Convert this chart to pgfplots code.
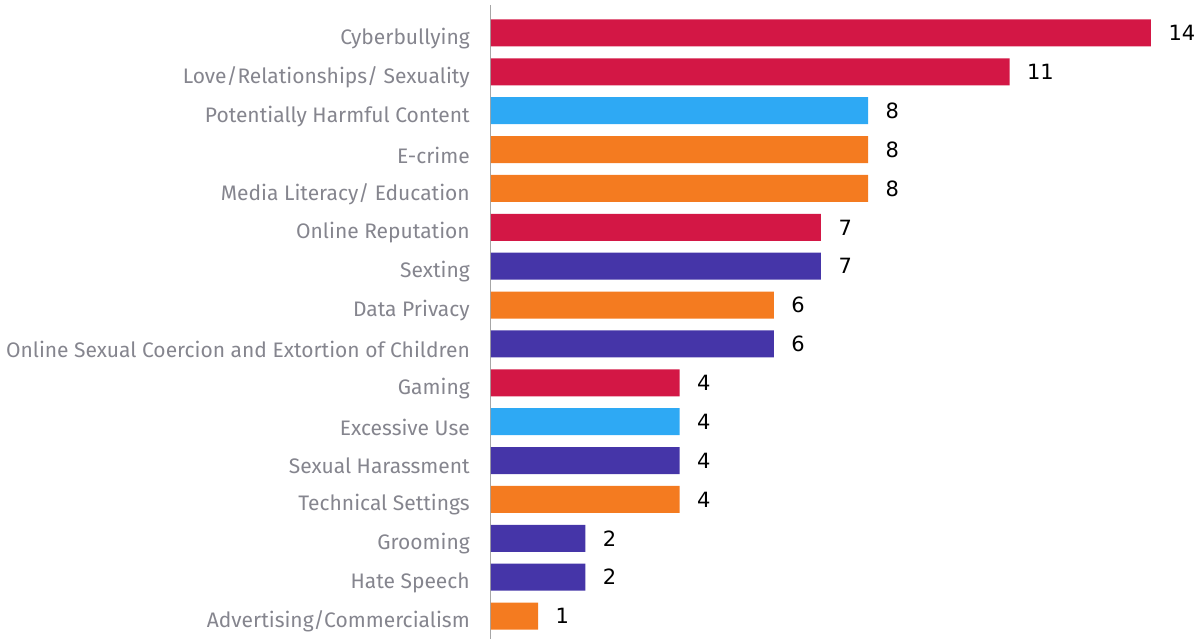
\documentclass[border=0pt]{standalone}
\usepackage{pgfplots}
\pgfplotsset{compat=1.18}
\usepackage{fontspec}
\setmainfont{Fira Sans}
\newfontfamily\numfont{DejaVu Sans}
\definecolor{cred}{HTML}{D31745}
\definecolor{cblue}{HTML}{2EA9F4}
\definecolor{corange}{HTML}{F47B20}
\definecolor{cpurple}{HTML}{4535A8}
\definecolor{labgray}{HTML}{85858E}
\begin{document}
\begin{tikzpicture}
\begin{axis}[
  name=ax,
  at={(0,0)}, anchor=south west,
  scale only axis,
  width=713pt, height=634pt,
  xmin=0, xmax=15.125,
  ymin=-0.72, ymax=15.59,
  y dir=reverse,
  xbar, bar width=27pt, bar shift=0pt,
  axis x line=none,
  axis y line*=left,
  y axis line style={draw=gray!70, line width=1pt, -},
  ytick={0,...,15},
  yticklabels={Cyberbullying,Love/Relationships/ Sexuality,Potentially Harmful Content,E-crime,Media Literacy/ Education,Online Reputation,Sexting\ ,Data Privacy,Online Sexual Coercion and Extortion of Children,Gaming,Excessive Use,Sexual Harassment,Technical Settings,Grooming,Hate Speech,Advertising/Commercialism},
  major tick length=0pt,
  yticklabel style={font=\fontsize{21}{24}\selectfont, text=labgray, inner sep=0pt, xshift=-21pt, yshift=-5.5pt},
  nodes near coords={\pgfmathprintnumber[assume math mode=true]{\pgfplotspointmeta}},
  every node near coord/.append style={font=\numfont\fontsize{21}{24}\selectfont, text=black, anchor=west, xshift=14pt},
  clip=false,
]
\addplot[fill=cred, draw=none] coordinates {(14,0) (11,1) (7,5) (4,9)};
\addplot[fill=cblue, draw=none] coordinates {(8,2) (4,10)};
\addplot[fill=corange, draw=none] coordinates {(8,3) (8,4) (6,7) (4,12) (1,15)};
\addplot[fill=cpurple, draw=none] coordinates {(7,6) (6,8) (4,11) (2,13) (2,14)};
\end{axis}
\pgfresetboundingbox
\path[use as bounding box] ([xshift=-491pt]ax.south west) rectangle ([yshift=5pt]ax.north east);
\end{tikzpicture}
\end{document}
